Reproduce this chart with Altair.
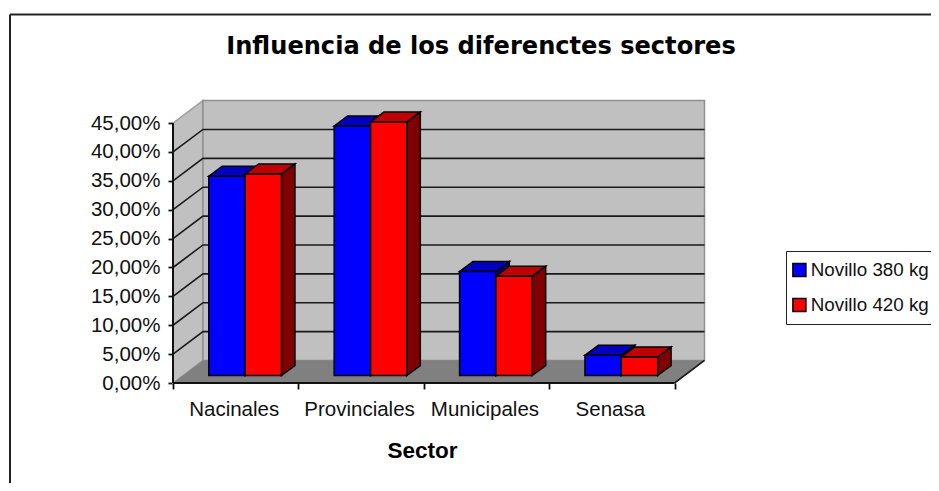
import json
import altair as alt
import pandas as pd

sectors = ["Nacinales", "Provinciales", "Municipales", "Senasa"]
novillo_380 = [34.5, 43.2, 18.0, 3.5]
novillo_420 = [34.9, 43.9, 17.2, 3.2]
series_names = ["Novillo 380 kg", "Novillo 420 kg"]
y_ticks = [0, 5, 10, 15, 20, 25, 30, 35, 40, 45]

FRONT = {"Novillo 380 kg": "#0000FF", "Novillo 420 kg": "#FF0000"}
TOP = {"Novillo 380 kg": "#0000C0", "Novillo 420 kg": "#C00000"}
SIDE = {"Novillo 380 kg": "#000080", "Novillo 420 kg": "#800000"}

# chart depth in axis units
DX, DY = 0.239, 3.9       # wall depth
BX, BY = 0.107, 1.73      # bar depth
BASE = 1.3                # bar foot above the front edge of the floor
START, BAR_W = 0.2855, 0.29
X_MAX, Y_MAX = 4.243, 49.0
N = len(sectors)

x_scale = alt.Scale(domain=[0, X_MAX], nice=False, zero=False)
y_scale = alt.Scale(domain=[0, Y_MAX], nice=False, zero=False)

label_expr = (
    "datum.value % 1 == 0 ? '' : " + json.dumps(sectors) + "[floor(datum.value)]"
)
x_axis = alt.Axis(
    values=[0, 0.5, 1, 1.5, 2, 2.5, 3, 3.5, 4],
    labelExpr=label_expr,
    tickOpacity=alt.expr("datum.value % 1 == 0 ? 1 : 0"),
    domain=False, grid=False, tickColor="#111", tickSize=6, tickWidth=1.8,
    labelFont="Liberation Sans", labelFontSize=20.5, labelColor="#111",
    labelPadding=10, labelOverlap=False, labelOffset=-2, labelFlush=False,
    title="Sector", titleFont="Liberation Sans", titleFontSize=22.5, titleFontWeight="bold",
    titleColor="#000", titleX=249, titleY=74, titleAnchor="middle", titleBaseline="alphabetic",
)
y_axis = alt.Axis(
    values=y_ticks,
    labelExpr="replace(format(datum.value, '.2f'), '.', ',') + '%'",
    domain=False, grid=False, tickColor="#111", tickSize=5, tickWidth=1.8,
    labelFont="Liberation Sans", labelFontSize=20.5, labelColor="#111",
    labelPadding=8, labelOverlap=False, title=None,
)
X = alt.X("x:Q", scale=x_scale, axis=x_axis)
Y = alt.Y("y:Q", scale=y_scale, axis=y_axis)


def poly(points, fill, stroke, width=1.5):
    """points: (face, order, x, y) of a closed outline"""
    d = pd.DataFrame(points, columns=["face", "k", "x", "y"])
    return alt.Chart(d).mark_line(
        fill=fill, stroke=stroke, strokeWidth=width, interpolate="linear-closed"
    ).encode(x=X, y=Y, detail="face:N", order="k:Q")


def outline(face, corners):
    return [(face, k, cx, cy) for k, (cx, cy) in enumerate(corners)]


side_wall = poly(outline(0, [(0, 0), (DX, DY), (DX, 45 + DY), (0, 45)]), "#C0C0C0", "#A0A0A0")
back_wall = poly(outline(0, [(DX, DY), (N + DX, DY), (N + DX, 45 + DY), (DX, 45 + DY)]), "#C0C0C0", "#909090")
floor = poly(outline(0, [(0, 0), (N, 0), (N + DX, DY), (DX, DY)]), "#808080", "#808080", 0.5)

grid_rows = []
for v in y_ticks[1:-1]:
    grid_rows += [(v, 0, v), (v, DX, v + DY), (v, N + DX, v + DY)]
grid = alt.Chart(pd.DataFrame(grid_rows, columns=["v", "x", "y"])).mark_line(
    color="#1a1a1a", strokeWidth=1.6
).encode(x=X, y=Y, detail="v:N", order="x:Q")
floor_edge = alt.Chart(pd.DataFrame({"x": [N, N + DX], "y": [0, DY]})).mark_line(
    color="#1a1a1a", strokeWidth=1.6
).encode(x=X, y=Y, order="x:Q")

x_line = alt.Chart(pd.DataFrame({"x": [0], "x2": [N], "y": [0]})).mark_rule(
    color="#111", strokeWidth=2
).encode(x=X, x2="x2:Q", y=Y)
y_line = alt.Chart(pd.DataFrame({"x": [0], "y": [0], "y2": [45]})).mark_rule(
    color="#111", strokeWidth=2
).encode(x=X, y=Y, y2="y2:Q")

layers = [side_wall, back_wall, floor, floor_edge, grid, y_line, x_line]

for s, (name, vals) in enumerate(zip(series_names, [novillo_380, novillo_420])):
    side_pts, top_pts, front_rows = [], [], []
    for i, v in enumerate(vals):
        x0 = i + START + s * BAR_W
        x1 = x0 + BAR_W
        t = BASE + v
        side_pts += outline(i, [(x1, BASE), (x1 + BX, BASE + BY), (x1 + BX, t + BY), (x1, t)])
        top_pts += outline(i, [(x0, t), (x1, t), (x1 + BX, t + BY), (x0 + BX, t + BY)])
        front_rows.append({"series": name, "x": x0, "x2": x1, "y": BASE, "y2": t})
    layers.append(poly(side_pts, SIDE[name], "#000"))
    layers.append(poly(top_pts, TOP[name], "#000"))
    layers.append(
        alt.Chart(pd.DataFrame(front_rows)).mark_rect(stroke="#000", strokeWidth=1.5).encode(
            x=X, x2="x2:Q", y=Y, y2="y2:Q",
            color=alt.Color(
                "series:N",
                scale=alt.Scale(domain=series_names, range=[FRONT[n] for n in series_names]),
                legend=alt.Legend(
                    title=None, orient="none", legendX=613, legendY=151,
                    fillColor="#fff", strokeColor="#222", padding=4,
                    symbolType="square", symbolSize=170, symbolStrokeColor="#000",
                    symbolStrokeWidth=1.5, symbolOpacity=1,
                    labelFont="Liberation Sans", labelFontSize=18.8, labelColor="#111",
                    labelLimit=200, labelOffset=2, rowPadding=5, clipHeight=30,
                ),
            ),
        )
    )

# outer chart frame running off the picture
frame_l = alt.Chart(pd.DataFrame({"a": [0]})).mark_rule(color="#222", strokeWidth=2).encode(
    x=alt.value(-163), y=alt.value(-85.5), y2=alt.value(383)
)
frame_t = alt.Chart(pd.DataFrame({"a": [0]})).mark_rule(color="#222", strokeWidth=2).encode(
    y=alt.value(-85.5), x=alt.value(-163), x2=alt.value(758)
)
layers += [frame_l, frame_t]

chart = alt.layer(*layers).properties(
    width=532, height=283,
    autosize=alt.AutoSizeParams(type="none"),
    padding={"left": 165, "top": 92, "right": 226, "bottom": 100},
    background="white",
    title=alt.TitleParams(
        "Influencia de los diferenctes sectores",
        font="DejaVu Sans", fontSize=24.1, fontWeight="bold", color="#000",
        anchor="middle", frame="group", dx=42, offset=43, dy=89,
    ),
).configure_view(stroke=None)

chart.save("out.html", embed_options={"renderer": "svg", "actions": False})
